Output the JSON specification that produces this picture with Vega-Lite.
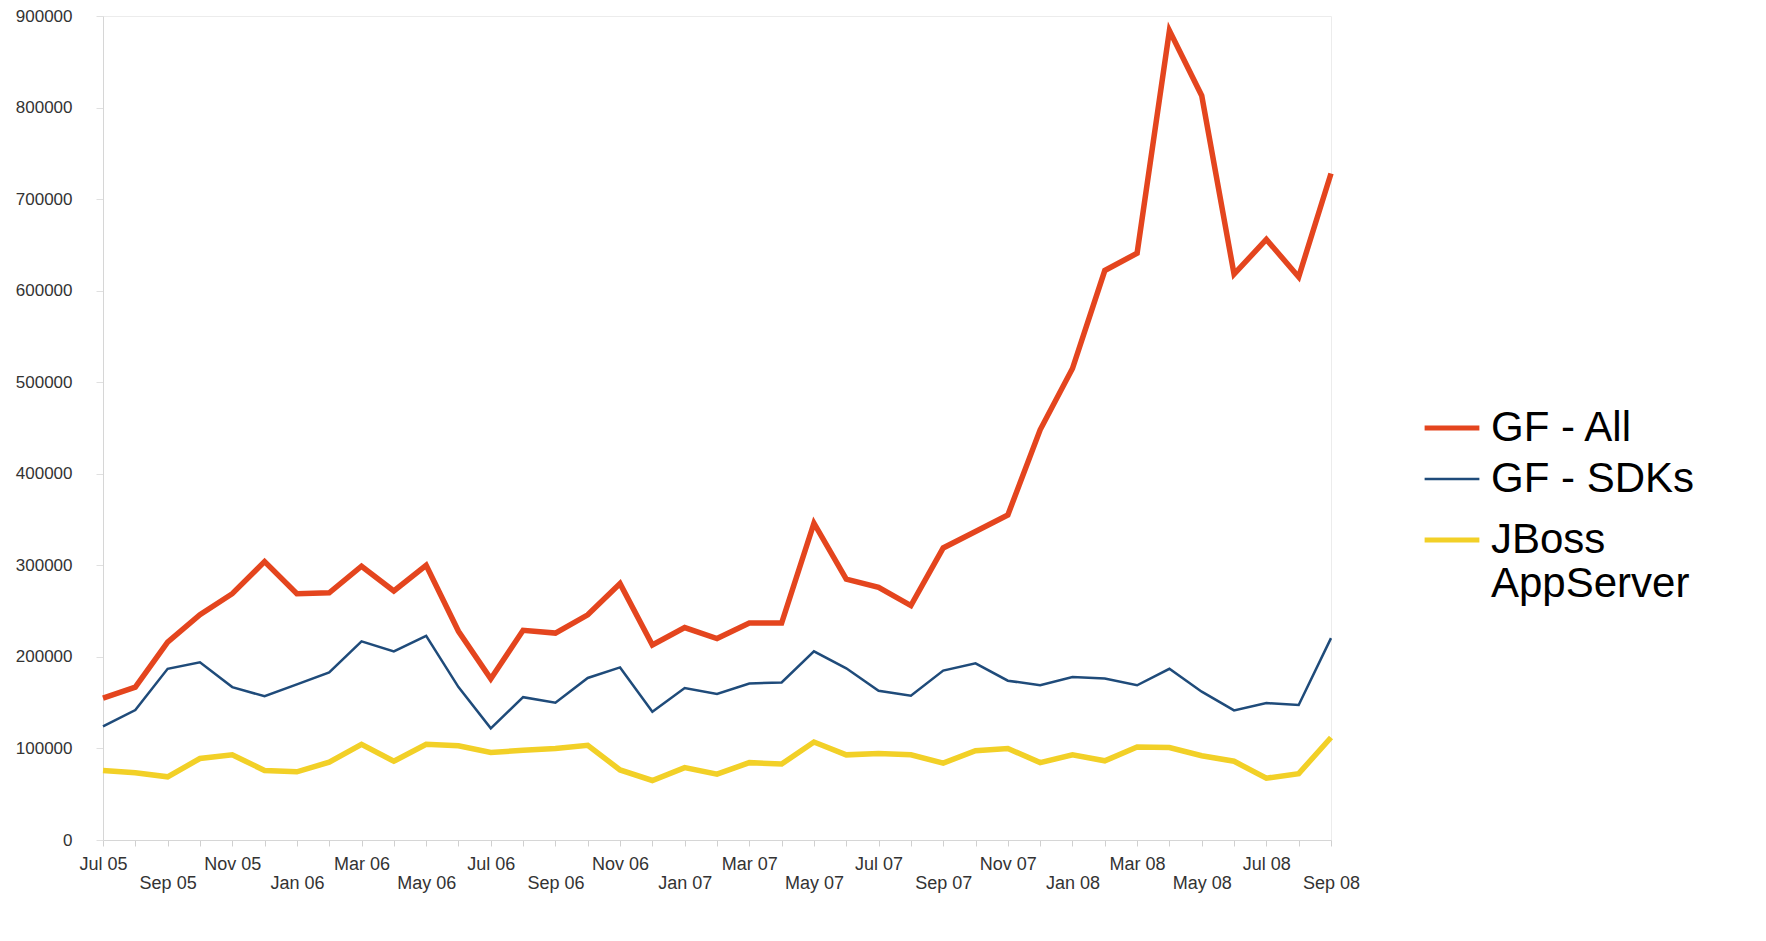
{
  "$schema": "https://vega.github.io/schema/vega-lite/v6.json",
  "width": 1228,
  "height": 824,
  "autosize": {"type": "none"},
  "padding": {"left": 103, "top": 16, "right": 435, "bottom": 101},
  "background": "white",
  "config": {
    "view": {"stroke": "#ececec", "strokeWidth": 1},
    "font": "Liberation Sans"
  },
  "datasets": {
    "rows": [
      {"m": "Jul 05", "GF - All": 155000, "GF - SDKs": 124000, "JBoss AppServer": 76000},
      {"m": "Aug 05", "GF - All": 167000, "GF - SDKs": 142000, "JBoss AppServer": 73500},
      {"m": "Sep 05", "GF - All": 216000, "GF - SDKs": 187000, "JBoss AppServer": 69000},
      {"m": "Oct 05", "GF - All": 246000, "GF - SDKs": 194000, "JBoss AppServer": 89000},
      {"m": "Nov 05", "GF - All": 269000, "GF - SDKs": 167000, "JBoss AppServer": 93000},
      {"m": "Dec 05", "GF - All": 304000, "GF - SDKs": 157000, "JBoss AppServer": 76000},
      {"m": "Jan 06", "GF - All": 269000, "GF - SDKs": 170000, "JBoss AppServer": 74500},
      {"m": "Feb 06", "GF - All": 270000, "GF - SDKs": 183000, "JBoss AppServer": 85000},
      {"m": "Mar 06", "GF - All": 299000, "GF - SDKs": 217000, "JBoss AppServer": 104500},
      {"m": "Apr 06", "GF - All": 272000, "GF - SDKs": 206000, "JBoss AppServer": 86000},
      {"m": "May 06", "GF - All": 300000, "GF - SDKs": 223000, "JBoss AppServer": 104500},
      {"m": "Jun 06", "GF - All": 228000, "GF - SDKs": 167000, "JBoss AppServer": 103000},
      {"m": "Jul 06", "GF - All": 176000, "GF - SDKs": 122000, "JBoss AppServer": 95500},
      {"m": "Aug 06", "GF - All": 229000, "GF - SDKs": 156000, "JBoss AppServer": 98000},
      {"m": "Sep 06", "GF - All": 226000, "GF - SDKs": 150000, "JBoss AppServer": 100000},
      {"m": "Oct 06", "GF - All": 246000, "GF - SDKs": 177000, "JBoss AppServer": 103500},
      {"m": "Nov 06", "GF - All": 280000, "GF - SDKs": 188500, "JBoss AppServer": 76500},
      {"m": "Dec 06", "GF - All": 213000, "GF - SDKs": 140000, "JBoss AppServer": 65000},
      {"m": "Jan 07", "GF - All": 232000, "GF - SDKs": 166000, "JBoss AppServer": 79000},
      {"m": "Feb 07", "GF - All": 220000, "GF - SDKs": 159500, "JBoss AppServer": 72000},
      {"m": "Mar 07", "GF - All": 237000, "GF - SDKs": 171000, "JBoss AppServer": 84500},
      {"m": "Apr 07", "GF - All": 237000, "GF - SDKs": 172000, "JBoss AppServer": 83000},
      {"m": "May 07", "GF - All": 346000, "GF - SDKs": 206000, "JBoss AppServer": 107000},
      {"m": "Jun 07", "GF - All": 285000, "GF - SDKs": 187500, "JBoss AppServer": 93000},
      {"m": "Jul 07", "GF - All": 276000, "GF - SDKs": 163000, "JBoss AppServer": 94500},
      {"m": "Aug 07", "GF - All": 256000, "GF - SDKs": 157500, "JBoss AppServer": 93000},
      {"m": "Sep 07", "GF - All": 319000, "GF - SDKs": 185000, "JBoss AppServer": 84000},
      {"m": "Oct 07", "GF - All": 337000, "GF - SDKs": 193000, "JBoss AppServer": 97500},
      {"m": "Nov 07", "GF - All": 355000, "GF - SDKs": 174000, "JBoss AppServer": 100000},
      {"m": "Dec 07", "GF - All": 448000, "GF - SDKs": 169000, "JBoss AppServer": 84500},
      {"m": "Jan 08", "GF - All": 515000, "GF - SDKs": 178000, "JBoss AppServer": 93000},
      {"m": "Feb 08", "GF - All": 622000, "GF - SDKs": 176500, "JBoss AppServer": 86500},
      {"m": "Mar 08", "GF - All": 641000, "GF - SDKs": 169000, "JBoss AppServer": 101500},
      {"m": "Apr 08", "GF - All": 884000, "GF - SDKs": 187000, "JBoss AppServer": 101000},
      {"m": "May 08", "GF - All": 813000, "GF - SDKs": 162000, "JBoss AppServer": 92000},
      {"m": "Jun 08", "GF - All": 618000, "GF - SDKs": 141500, "JBoss AppServer": 86000},
      {"m": "Jul 08", "GF - All": 656000, "GF - SDKs": 149500, "JBoss AppServer": 67500},
      {"m": "Aug 08", "GF - All": 615000, "GF - SDKs": 147500, "JBoss AppServer": 72500},
      {"m": "Sep 08", "GF - All": 728000, "GF - SDKs": 220500, "JBoss AppServer": 112000}
    ]
  },
  "data": {"name": "rows"},
  "transform": [
    {"fold": ["GF - All", "GF - SDKs", "JBoss AppServer"], "as": ["series", "v"]}
  ],
  "mark": {"type": "line", "strokeJoin": "miter", "strokeCap": "butt"},
  "encoding": {
    "x": {
      "field": "m",
      "type": "ordinal",
      "sort": null,
      "scale": {"type": "point", "padding": 0},
      "axis": {
        "title": null,
        "labelAngle": 0,
        "domainColor": "#d6d6d6",
        "tickColor": "#d0d0d0",
        "tickSize": 6,
        "labelPadding": 9,
        "labelFont": "Liberation Sans",
        "labelFontSize": 18,
        "labelColor": "#333333",
        "labelBaseline": "top",
        "labelLineHeight": 19,
        "labelOverlap": false,
        "labelBound": false,
        "labelFlush": false,
        "labelExpr": "indexof(['Jul','Nov','Mar'], slice(datum.label,0,3)) >= 0 ? datum.label : (indexof(['Sep','Jan','May'], slice(datum.label,0,3)) >= 0 ? ['', datum.label] : '')"
      }
    },
    "y": {
      "field": "v",
      "type": "quantitative",
      "scale": {"domain": [0, 900000], "nice": false},
      "axis": {
        "title": null,
        "grid": false,
        "values": [0, 100000, 200000, 300000, 400000, 500000, 600000, 700000, 800000, 900000],
        "format": "d",
        "domainColor": "#d6d6d6",
        "tickColor": "#e0e0e0",
        "tickSize": 7,
        "labelPadding": 24,
        "labelFont": "Liberation Sans",
        "labelFontSize": 17,
        "labelColor": "#333333"
      }
    },
    "color": {
      "field": "series",
      "type": "nominal",
      "scale": {
        "domain": ["GF - All", "GF - SDKs", "JBoss AppServer"],
        "range": ["#E4451E", "#1F4B7A", "#F2D027"]
      },
      "legend": {
        "title": null,
        "orient": "none",
        "legendX": 1328,
        "legendY": 391,
        "symbolType": "stroke",
        "symbolSize": 3000,
        "symbolStrokeWidth": 4.5,
        "labelFont": "Liberation Sans",
        "labelFontSize": 42,
        "labelColor": "#000000",
        "labelOffset": 18,
        "labelLimit": 0,
        "rowPadding": 9,
        "labelExpr": "datum.label == 'JBoss AppServer' ? ['JBoss', 'AppServer'] : (datum.label == 'GF - SDKs' ? ['GF - SDKs', ''] : datum.label)",
        "encode": {
          "symbols": {"update": {"strokeWidth": {"signal": "datum.value == 'GF - SDKs' ? 2.5 : 5"}}},
          "labels": {"update": {"lineHeight": {"signal": "datum.value == 'GF - SDKs' ? 10 : 44"}}}
        }
      }
    },
    "strokeWidth": {
      "condition": {"test": "datum.series == 'GF - SDKs'", "value": 2.5},
      "value": 5.5
    }
  }
}
